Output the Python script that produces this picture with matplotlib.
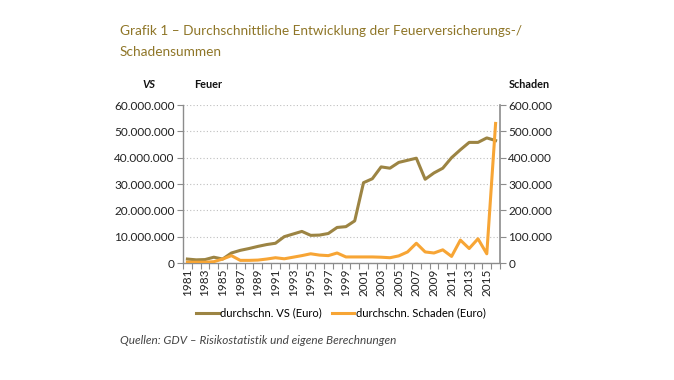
import matplotlib
matplotlib.use("Agg")
import matplotlib.pyplot as plt
from matplotlib.ticker import FuncFormatter, FixedLocator
import numpy as np

years = list(range(1981, 2017))
vs_euro = [1.5e6, 1.2e6, 1.3e6, 2.2e6, 1.5e6, 3.8e6, 4.8e6, 5.5e6, 6.3e6, 7.0e6,
           7.5e6, 10.0e6, 11.0e6, 12.0e6, 10.5e6, 10.6e6, 11.2e6, 13.5e6, 13.8e6, 16.0e6,
           30.5e6, 32.0e6, 36.5e6, 36.0e6, 38.2e6, 39.0e6, 39.8e6, 31.8e6, 34.2e6, 36.0e6,
           40.0e6, 43.0e6, 45.8e6, 45.8e6, 47.5e6, 46.5e6]
schaden_euro = [3000, 3000, 3000, 5000, 15000, 28000, 10000, 10000, 11000, 15000,
                20000, 16000, 22000, 28000, 35000, 30000, 28000, 38000, 23000, 23000,
                23000, 23000, 22000, 20000, 27000, 42000, 75000, 42000, 38000, 50000,
                25000, 87000, 55000, 92000, 35000, 530000]
series_names = ["durchschn. VS (Euro)", "durchschn. Schaden (Euro)"]

c_vs = "#9C8443"
c_sch = "#F7A535"
c_title = "#8F7628"
c_axis = "#8C8C8C"

plt.rcParams['font.family'] = ['Lato', 'DejaVu Sans']

fig = plt.figure(figsize=(6.74, 3.8), dpi=100)
ax = fig.add_axes([183/674, 1-263/380, (500-183)/674, (263-105)/380])
ax2 = ax.twinx()

x = np.arange(len(years))
ax.plot(x, vs_euro, color=c_vs, lw=2.2, label=series_names[0], zorder=3)
ax2.plot(x, schaden_euro, color=c_sch, lw=2.2, label=series_names[1], zorder=3)

ax.set_xlim(-0.5, len(years) - 0.5)
ax.set_ylim(0, 60e6)
ax2.set_ylim(0, 600000)
ax.set_yticks(np.arange(0, 60e6 + 1, 10e6))
ax2.set_yticks(np.arange(0, 600001, 100000))

def de_fmt(v, pos):
    return f"{int(round(v)):,}".replace(",", ".")

ax.yaxis.set_major_formatter(FuncFormatter(de_fmt))
ax2.yaxis.set_major_formatter(FuncFormatter(de_fmt))

ax.grid(axis='y', color='#BFBFBF', linestyle=(0, (1, 2)), lw=0.8)
ax.set_axisbelow(True)

# category boundary ticks
ax.xaxis.set_major_locator(FixedLocator(np.arange(-0.5, len(years), 1.0)))
ax.xaxis.set_major_formatter(FuncFormatter(lambda v, p: ""))
ax.tick_params(axis='x', which='major', length=4, color=c_axis, width=0.8)
ax.xaxis.set_minor_locator(FixedLocator(x[::2]))
ax.set_xticklabels([str(y) for y in years[::2]], minor=True, rotation=90,
                   fontsize=8.5, color='#222222')
ax.tick_params(axis='x', which='minor', length=0, pad=4)

for a in (ax, ax2):
    a.spines['top'].set_visible(False)
    a.spines['left'].set_color(c_axis)
    a.spines['right'].set_color(c_axis)
    a.spines['bottom'].set_color(c_axis)
ax.spines['right'].set_visible(False)
ax2.spines['left'].set_visible(False)
ax2.spines['bottom'].set_visible(False)
ax.spines['left'].set_linewidth(1.0)
ax2.spines['right'].set_linewidth(1.2)
ax.spines['bottom'].set_linewidth(1.0)

ax.tick_params(axis='y', length=4, color=c_axis, labelsize=8.5, labelcolor='#222222', pad=2)
ax2.tick_params(axis='y', length=4, color=c_axis, labelsize=8.5, labelcolor='#222222', pad=2)

fig.text(120/674, 1-31/380, "Grafik 1 – Durchschnittliche Entwicklung der Feuerversicherungs-/",
         color=c_title, fontsize=9.8, va='center', ha='left')
fig.text(120/674, 1-52/380, "Schadensummen", color=c_title, fontsize=9.8, va='center', ha='left')

fig.text(149/674, 1-84/380, "VS", fontsize=8, fontweight='bold', fontstyle='italic',
         va='center', ha='center', color='#111111')
fig.text(194/674, 1-84/380, "Feuer", fontsize=7.8, fontweight='bold',
         va='center', ha='left', color='#111111')
fig.text(509/674, 1-84/380, "Schaden", fontsize=7.8, fontweight='bold',
         va='center', ha='left', color='#111111')

h1, l1 = ax.get_legend_handles_labels()
h2, l2 = ax2.get_legend_handles_labels()
fig.legend(h1 + h2, l1 + l2, loc='center', bbox_to_anchor=(341/674, 1-313/380),
           ncol=2, frameon=False, fontsize=8, handlelength=2.0, handletextpad=0.15,
           columnspacing=0.9)

fig.text(120/674, 1-341/380, "Quellen: GDV – Risikostatistik und eigene Berechnungen",
         fontsize=8.5, fontstyle='italic', color='#444444', va='center', ha='left')

fig.savefig("out.png", dpi=100)
